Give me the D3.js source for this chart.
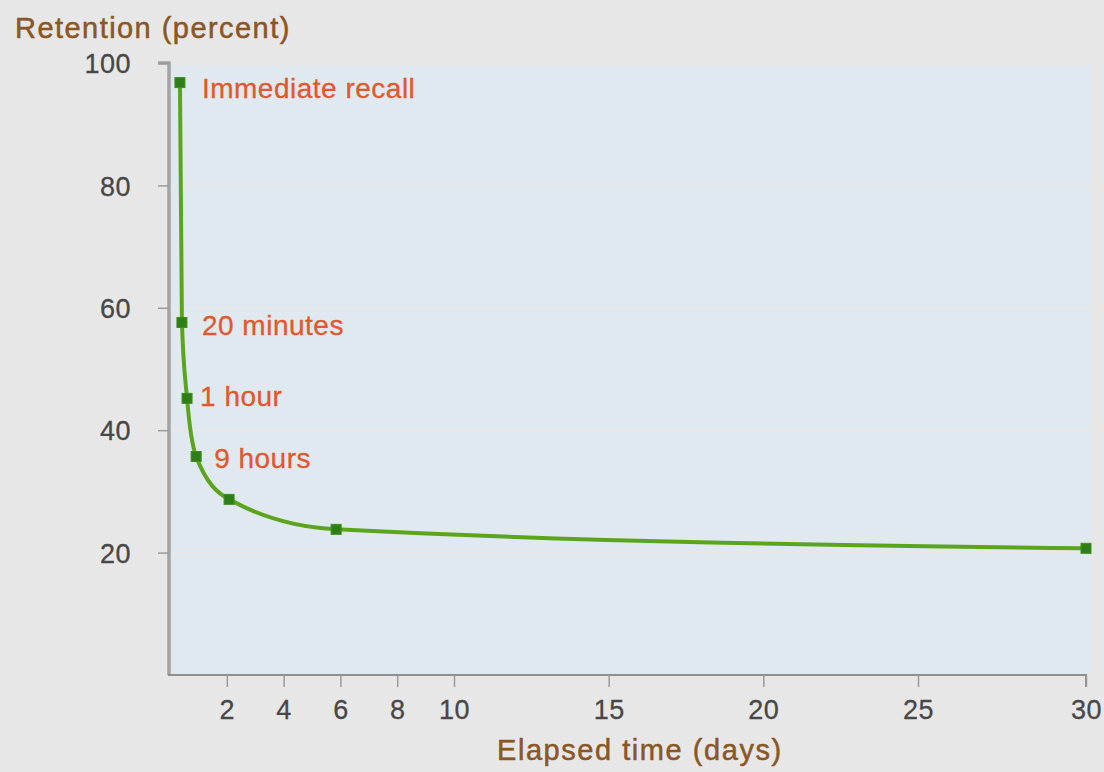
<!DOCTYPE html>
<html>
<head>
<meta charset="utf-8">
<script src="https://cdn.jsdelivr.net/npm/d3@7"></script>
<style>
  html, body { margin: 0; padding: 0; background: #e7e7e7; }
  svg { display: block; font-family: "Liberation Sans", Arial, Helvetica, sans-serif; }
</style>
</head>
<body>
<svg id="chart" width="1104" height="772"></svg>
<script>
// ---- data ----
const pointLabels = ["Immediate recall", "20 minutes", "1 hour", "9 hours", "", "", ""];
const elapsedDays = [0.35, 0.42, 0.6, 0.92, 2.08, 5.85, 30];
const retention   = [96.8, 57.6, 45.2, 35.7, 28.7, 23.8, 20.7];
const xTicks = [2, 4, 6, 8, 10, 15, 20, 25, 30];
const yTicks = [20, 40, 60, 80, 100];
const yTitle = "Retention (percent)";
const xTitle = "Elapsed time (days)";

// label offsets (layout only)
const labelDx = [22, 20, 13, 18];
const labelDy = [15, 13, 8, 11];

(function () {
const svg = d3.select("#chart");
const W = 1104, H = 772;
const mLeft = 170, mRight = 1090, mTop = 63, mBottom = 675;

svg.append("rect").attr("width", W).attr("height", H).attr("fill", "#e7e7e7");

// x scale: piecewise linear
const x = d3.scaleLinear().domain([0, 10, 25, 30]).range([mLeft, 454, 918, 1086]);
const y = d3.scaleLinear().domain([0, 100]).range([mBottom, mTop]);

// plot background
svg.append("rect")
  .attr("x", mLeft).attr("y", mTop + 2)
  .attr("width", mRight - mLeft).attr("height", mBottom - mTop - 2)
  .attr("fill", "#e0e9ef");

// faint gridlines
svg.append("g").selectAll("line")
  .data(yTicks.filter(d => d < 100))
  .join("line")
  .attr("x1", mLeft).attr("x2", mRight)
  .attr("y1", d => y(d)).attr("y2", d => y(d))
  .attr("stroke", "#ebe7e4").attr("stroke-width", 1.5);

// y axis
const yAxis = d3.axisLeft(y).tickValues(yTicks).tickSize(11).tickPadding(27);
const gy = svg.append("g").attr("transform", `translate(${mLeft - 1},0)`).call(yAxis);
gy.select(".domain").attr("stroke", "#a3a3a3").attr("stroke-width", 3.5)
  .attr("d", `M-11,${y(100)}H0V${mBottom}`);
gy.selectAll(".tick line").attr("stroke", "#9a9a9a").attr("stroke-width", 1.5);
gy.selectAll(".tick text")
  .attr("fill", "#474747").attr("font-size", 27).attr("letter-spacing", 0.5)
  .attr("stroke", "#474747").attr("stroke-width", 0.3)
  .attr("dy", "0.36em");

// x axis
const xAxis = d3.axisBottom(x).tickValues(xTicks).tickSize(12).tickPadding(10);
const gx = svg.append("g").attr("transform", `translate(0,${mBottom})`).call(xAxis);
gx.select(".domain").attr("stroke", "#8f8f8f").attr("stroke-width", 2)
  .attr("d", `M${mLeft - 2},0H${x(30)}V12`);
gx.selectAll(".tick line").attr("stroke", "#9a9a9a").attr("stroke-width", 1.5);
gx.selectAll(".tick text")
  .attr("fill", "#474747").attr("font-size", 27).attr("letter-spacing", 0.5)
  .attr("stroke", "#474747").attr("stroke-width", 0.3)
  .attr("dy", "0.8em");

// titles
svg.append("text").attr("x", 15).attr("y", 38)
  .attr("fill", "#8b5524").attr("stroke", "#8b5524").attr("stroke-width", 0.5)
  .attr("font-size", 29).attr("letter-spacing", 1.45)
  .text(yTitle);
svg.append("text").attr("x", 497).attr("y", 760)
  .attr("fill", "#8b5524").attr("stroke", "#8b5524").attr("stroke-width", 0.5)
  .attr("font-size", 29).attr("letter-spacing", 1.55)
  .text(xTitle);

// curve
const pts = elapsedDays.map((d, i) => [d, retention[i]]);
const line = d3.line().x(d => x(d[0])).y(d => y(d[1])).curve(d3.curveMonotoneX);
svg.append("path")
  .attr("d", line(pts))
  .attr("fill", "none").attr("stroke", "#5ba51e").attr("stroke-width", 4)
  .attr("stroke-linejoin", "round");

// markers
svg.append("g").selectAll("rect")
  .data(pts)
  .join("rect")
  .attr("x", d => x(d[0]) - 5).attr("y", d => y(d[1]) - 5)
  .attr("width", 10).attr("height", 10)
  .attr("fill", "#2f7d18").attr("stroke", "#3c8f1e").attr("stroke-width", 1);

// point labels
svg.append("g").selectAll("text")
  .data(pts.map((d, i) => ({ d, i, label: pointLabels[i] })).filter(o => o.label))
  .join("text")
  .attr("x", o => x(o.d[0]) + labelDx[o.i])
  .attr("y", o => y(o.d[1]) + labelDy[o.i])
  .attr("fill", "#e0582b").attr("stroke", "#e0582b").attr("stroke-width", 0.3)
  .attr("font-size", 28).attr("letter-spacing", 0.5)
  .text(o => o.label);
})();
</script>
</body>
</html>
